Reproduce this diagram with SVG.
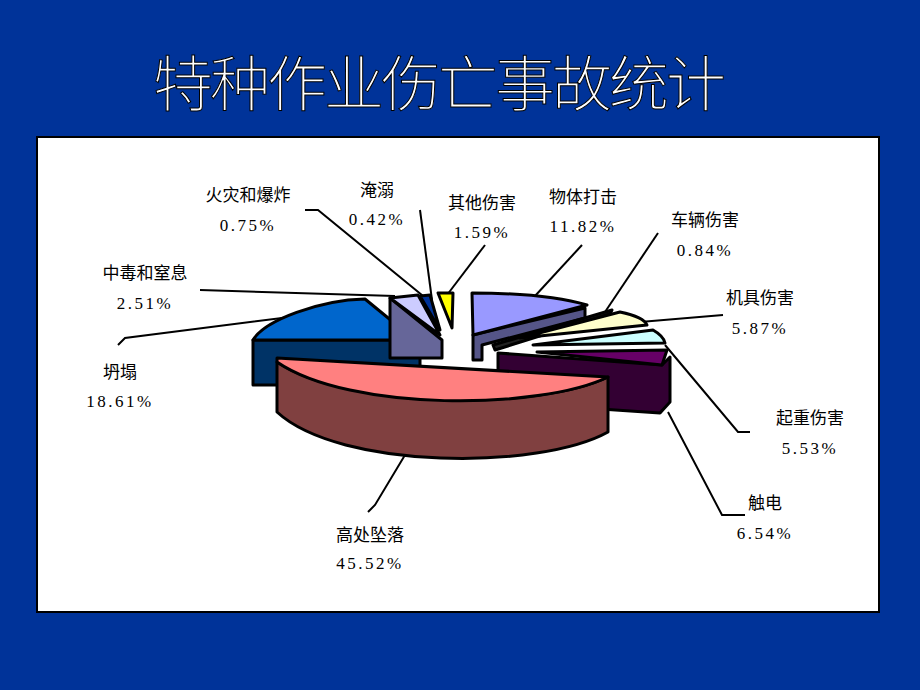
<svg xmlns="http://www.w3.org/2000/svg" width="920" height="690" viewBox="0 0 920 690">
<style>
.lbl{font-family:"Liberation Serif","Noto Sans CJK SC",serif;font-size:17px;fill:#000;text-anchor:middle}
.num{font-family:"Liberation Serif",serif;font-size:17px;fill:#000;text-anchor:middle;letter-spacing:2.5px}
.ln{stroke:#000;stroke-width:2;fill:none}
.pie{stroke:#000;stroke-width:3;stroke-linejoin:round}
</style>
<rect width="920" height="690" fill="#003399"/>
<text x="438" y="106" text-anchor="middle" font-family="'Noto Sans CJK SC',sans-serif" font-weight="300" font-size="60" fill="#fff" stroke="#000" stroke-width="1" letter-spacing="-3">特种作业伤亡事故统计</text>
<rect x="37" y="137" width="842" height="475" fill="#fff" stroke="#000" stroke-width="2"/>
<g id="connectors">
<polyline class="ln" points="305,210 318,210 428,300"/>
<polyline class="ln" points="420,210 432,300"/>
<polyline class="ln" points="485,245 447,295"/>
<polyline class="ln" points="582,245 535,296"/>
<polyline class="ln" points="658,233 605,312"/>
<polyline class="ln" points="723,315 640,322"/>
<polyline class="ln" points="750,432 738,432 665,345"/>
<polyline class="ln" points="745,515 722,515 668,412"/>
<polyline class="ln" points="368,512 375,505 405,455"/>
<polyline class="ln" points="118,345 125,338 298,316"/>
<polyline class="ln" points="200,290 395,296"/>
</g>
<g id="pie">
<path class="pie" fill="#003366" d="M253,340 L420,340 L420,385 L253,385 Z"/>
<path class="pie" fill="#0066CC" d="M253,340 C265,320 320,300 365,299 L415,340 Z"/>
<path class="pie" fill="#666699" d="M390,298 L442,340 L442,358 L390,358 Z"/>
<path class="pie" fill="#CCCCFF" d="M390,298 L418,295 L440,335 Z"/>
<path class="pie" fill="#003399" d="M420,296 L430,295 L440,330 Z"/>
<path class="pie" fill="#FFFF00" d="M438,293 L453,293 L452,328 Z"/>
<path class="pie" fill="#555588" d="M473,335 L585,308 L585,318 L482,345 L482,360 L473,360 Z"/>
<path class="pie" fill="#9999FF" d="M472,293 C520,293 560,297 587,305 L473,335 Z"/>
<path class="pie" fill="#222" d="M493,345 L612,310 L610,314 L495,350 Z"/>
<path class="pie" fill="#FFFFCC" d="M520,338 L620,312 C635,315 645,320 647,325 Z"/>
<path class="pie" fill="#CCFFFF" d="M533,345 L653,330 C660,334 664,338 665,343 Z"/>
<path class="pie" fill="#330033" d="M498,353 L662,365 L670,357 L670,402 L660,413 L498,402 Z"/>
<path class="pie" fill="#660066" d="M537,352 L667,350 L662,365 Z"/>
<path class="pie" fill="#804040" d="M277,362 C350,410 540,410 608,377 L608,432 C540,470 340,470 277,412 Z"/>
<path class="pie" fill="#FF8080" d="M277,358 L608,377 C540,410 350,412 277,362 Z"/>
</g>
<g id="labels">
<text class="lbl" x="248" y="201">火灾和爆炸</text><text class="num" x="248" y="231">0.75%</text>
<text class="lbl" x="377" y="196">淹溺</text><text class="num" x="377" y="225">0.42%</text>
<text class="lbl" x="482" y="209">其他伤害</text><text class="num" x="482" y="238">1.59%</text>
<text class="lbl" x="583" y="203">物体打击</text><text class="num" x="583" y="232">11.82%</text>
<text class="lbl" x="705" y="226">车辆伤害</text><text class="num" x="705" y="256">0.84%</text>
<text class="lbl" x="760" y="304">机具伤害</text><text class="num" x="760" y="334">5.87%</text>
<text class="lbl" x="810" y="424">起重伤害</text><text class="num" x="810" y="454">5.53%</text>
<text class="lbl" x="765" y="509">触电</text><text class="num" x="765" y="539">6.54%</text>
<text class="lbl" x="370" y="541">高处坠落</text><text class="num" x="370" y="569">45.52%</text>
<text class="lbl" x="120" y="378">坍塌</text><text class="num" x="120" y="407">18.61%</text>
<text class="lbl" x="145" y="279">中毒和窒息</text><text class="num" x="145" y="309">2.51%</text>
</g>
</svg>
